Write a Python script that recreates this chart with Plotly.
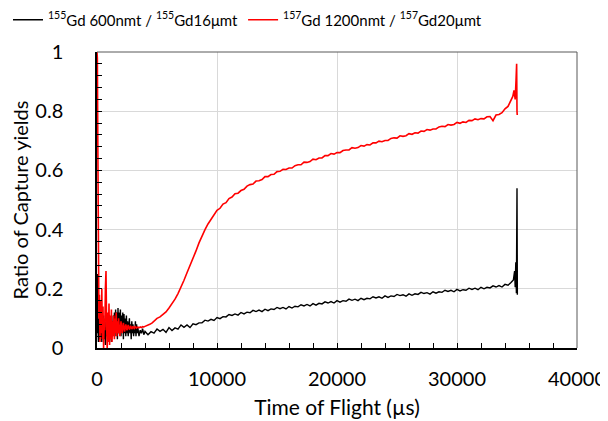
import plotly.graph_objects as go

# ---------------- data ----------------
series_names = [
    "<sup>155</sup>Gd 600nmt / <sup>155</sup>Gd16\u03bcmt",
    "<sup>157</sup>Gd 1200nmt / <sup>157</sup>Gd20\u03bcmt",
]

# 155Gd ratio: noisy start
gd155_tof_early = [0, 40, 80, 120, 160, 200, 250, 300, 350, 400, 450, 500, 550, 600, 650, 700,
                   750, 800, 850, 900, 950, 1000, 1050, 1100, 1150, 1200, 1250, 1300, 1350, 1400,
                   1450, 1500, 1550, 1600, 1650, 1700, 1750, 1800, 1850, 1900, 1950, 2000, 2050,
                   2100, 2150, 2200, 2250, 2300, 2350, 2400, 2450, 2500, 2550, 2600, 2700, 2750,
                   2800, 2850, 2900, 2950, 3000, 3050, 3100, 3150, 3200, 3250, 3300, 3350, 3400,
                   3500, 3600, 3700, 3800, 3900]
gd155_ratio_early = [0.05, 0.25, 0.08, 0.02, 0.10, 0.03, 0.12, 0.04, 0.09, 0.02, 0.08, 0.05, 0.11,
                     0.03, 0.07, 0.01, 0.09, 0.04, 0.06, 0.02, 0.08, 0.05, 0.10, 0.03, 0.07, 0.02,
                     0.09, 0.04, 0.11, 0.05, 0.12, 0.04, 0.13, 0.06, 0.12, 0.03, 0.135, 0.05, 0.12,
                     0.07, 0.13, 0.04, 0.11, 0.06, 0.12, 0.03, 0.115, 0.05, 0.10, 0.04, 0.11, 0.05,
                     0.09, 0.04, 0.10, 0.05, 0.08, 0.03, 0.09, 0.05, 0.08, 0.04, 0.07, 0.05, 0.09,
                     0.04, 0.08, 0.05, 0.07, 0.04, 0.06, 0.05, 0.065, 0.045]
# 155Gd ratio: 4000 .. 34500 us, every 250 us
gd155_tof_late = list(range(4000, 34501, 250))
gd155_ratio_late = [
    0.056, 0.045, 0.055, 0.050, 0.064, 0.056, 0.063, 0.053,
    0.069, 0.059, 0.068, 0.064, 0.078, 0.070, 0.078, 0.069,
    0.082, 0.079, 0.085, 0.085, 0.094, 0.091, 0.097, 0.093,
    0.103, 0.099, 0.106, 0.105, 0.113, 0.110, 0.115, 0.111,
    0.120, 0.115, 0.121, 0.119, 0.127, 0.123, 0.128, 0.123,
    0.131, 0.126, 0.132, 0.130, 0.137, 0.133, 0.137, 0.132,
    0.140, 0.135, 0.141, 0.139, 0.146, 0.142, 0.147, 0.142,
    0.150, 0.145, 0.151, 0.149, 0.156, 0.152, 0.157, 0.152,
    0.160, 0.155, 0.160, 0.158, 0.165, 0.161, 0.165, 0.160,
    0.168, 0.163, 0.168, 0.166, 0.173, 0.169, 0.173, 0.168,
    0.176, 0.171, 0.176, 0.174, 0.181, 0.177, 0.180, 0.175,
    0.183, 0.178, 0.183, 0.181, 0.188, 0.184, 0.187, 0.182,
    0.190, 0.185, 0.190, 0.188, 0.195, 0.191, 0.195, 0.190,
    0.198, 0.193, 0.197, 0.195, 0.202, 0.198, 0.202, 0.197,
    0.205, 0.200, 0.205, 0.203, 0.210, 0.206, 0.211, 0.206,
    0.215, 0.212, 0.221]
# 155Gd ratio: spike at the end of the frame
gd155_tof_tail = [34700, 34800, 34850, 34900, 34950, 35000, 35030]
gd155_ratio_tail = [0.23, 0.26, 0.205, 0.29, 0.185, 0.54, 0.18]

# 157Gd ratio: noisy start
gd157_tof_early = [0, 30, 60, 90, 120, 160, 200, 250, 300, 350, 400, 450, 500, 550, 600, 650, 700,
                   750, 800, 850, 900, 950, 1000, 1050, 1100, 1150, 1200, 1250, 1300, 1350, 1400,
                   1450, 1500, 1550, 1600, 1650, 1700, 1750, 1800, 1900, 2000, 2100, 2200, 2300,
                   2400, 2500, 2600, 2700, 2800, 2900, 3000, 3100, 3200, 3300, 3400, 3500, 3600,
                   3700, 3800, 3900, 4000, 4200, 4400, 4600, 4800]
gd157_ratio_early = [1.0, 0.98, 0.75, 0.5, 0.30, 0.10, 0.18, 0.02, 0.16, 0.05, 0.20, 0.03, 0.14,
                     0.0, 0.10, 0.06, 0.20, 0.26, 0.08, 0.0, 0.12, 0.02, 0.15, 0.01, 0.11, 0.03,
                     0.13, 0.02, 0.09, 0.04, 0.11, 0.03, 0.10, 0.05, 0.12, 0.04, 0.09, 0.05, 0.10,
                     0.04, 0.09, 0.05, 0.085, 0.055, 0.08, 0.06, 0.078, 0.062, 0.075, 0.064, 0.073,
                     0.066, 0.072, 0.067, 0.071, 0.068, 0.071, 0.069, 0.072, 0.071, 0.073, 0.076,
                     0.080, 0.085, 0.092]
# 157Gd ratio: 5000 .. 34500 us, every 250 us
gd157_tof_late = list(range(5000, 34501, 250))
gd157_ratio_late = [
    0.100, 0.105, 0.112, 0.122, 0.135, 0.149, 0.165, 0.184, 0.205, 0.229,
    0.254, 0.277, 0.300, 0.328, 0.355, 0.379, 0.400, 0.419, 0.435, 0.449,
    0.465, 0.472, 0.486, 0.491, 0.505, 0.510, 0.521, 0.523,
    0.532, 0.536, 0.547, 0.552, 0.554, 0.564, 0.565, 0.569,
    0.579, 0.579, 0.586, 0.587, 0.596, 0.597, 0.604, 0.603,
    0.608, 0.608, 0.616, 0.619, 0.619, 0.628, 0.627, 0.630,
    0.638, 0.636, 0.642, 0.642, 0.650, 0.650, 0.657, 0.655,
    0.660, 0.660, 0.667, 0.669, 0.669, 0.677, 0.675, 0.677,
    0.684, 0.682, 0.687, 0.686, 0.693, 0.693, 0.699, 0.697,
    0.701, 0.701, 0.708, 0.710, 0.709, 0.717, 0.715, 0.717,
    0.724, 0.722, 0.727, 0.726, 0.733, 0.732, 0.738, 0.736,
    0.740, 0.740, 0.747, 0.749, 0.748, 0.755, 0.753, 0.755,
    0.762, 0.759, 0.764, 0.762, 0.769, 0.768, 0.774, 0.771,
    0.775, 0.774, 0.781, 0.782, 0.768, 0.787, 0.789, 0.795,
    0.808, 0.816, 0.839]
gd157_tof_tail = [34650, 34750, 34850, 34920, 34970, 35000, 35020]
gd157_ratio_tail = [0.85, 0.87, 0.84, 0.905, 0.96, 0.80, 0.787]

x_ticks = [0, 10000, 20000, 30000, 40000]
x_tick_labels = ["0", "10000", "20000", "30000", "40000"]
y_ticks = [0, 0.2, 0.4, 0.6, 0.8, 1.0]
y_tick_labels = ["0", "0.2", "0.4", "0.6", "0.8", "1"]

# ---------------- figure ----------------
FONT = "Lato, 'Liberation Sans', sans-serif"

fig = go.Figure()
fig.add_trace(go.Scatter(
    x=gd155_tof_early + gd155_tof_late + gd155_tof_tail,
    y=gd155_ratio_early + gd155_ratio_late + gd155_ratio_tail,
    mode="lines", name=series_names[0],
    line=dict(color="#000000", width=1.4),
))
fig.add_trace(go.Scatter(
    x=gd157_tof_early + gd157_tof_late + gd157_tof_tail,
    y=gd157_ratio_early + gd157_ratio_late + gd157_ratio_tail,
    mode="lines", name=series_names[1],
    line=dict(color="#ff0000", width=1.6),
))

# the page body keeps its default 8px margin, so the figure is 8px smaller
fig.update_layout(
    width=600, height=413,
    margin=dict(l=89, r=31, t=44, b=73, autoexpand=False),
    paper_bgcolor="white", plot_bgcolor="white",
    font=dict(family=FONT, color="#000000", size=20),
    showlegend=True,
    legend=dict(
        orientation="h", xref="container", yref="container",
        x=0.0, xanchor="left", y=0.971, yanchor="middle",
        font=dict(size=15, family=FONT), itemwidth=30,
        tracegroupgap=0, bgcolor="rgba(0,0,0,0)",
    ),
    xaxis=dict(
        range=[0, 40000], tickvals=x_ticks, ticktext=x_tick_labels, automargin=False,
        showgrid=True, gridcolor="#d9d9d9", gridwidth=1, zeroline=False,
        showline=True, linecolor="#000000", linewidth=1.5,
        ticks="inside", ticklen=5, tickcolor="#000000",
        minor=dict(dtick=2000, ticks="inside", ticklen=5, tickcolor="#000000", showgrid=False),
        ticklabelstandoff=12, tickfont=dict(size=20),
        title=dict(text="Time of Flight (\u00b5s)", font=dict(size=21), standoff=12),
    ),
    yaxis=dict(
        range=[0, 1], tickvals=y_ticks, ticktext=y_tick_labels, automargin=False,
        showgrid=True, gridcolor="#d9d9d9", gridwidth=1, zeroline=False,
        showline=True, linecolor="#000000", linewidth=1.5,
        ticks="inside", ticklen=5, tickcolor="#000000",
        minor=dict(dtick=0.04, ticks="inside", ticklen=5, tickcolor="#000000", showgrid=False),
        ticklabelstandoff=28, tickfont=dict(size=20),
        title=dict(text="Ratio of Capture yields", font=dict(size=20), standoff=2),
    ),
)

# thin dark-grey frame on the top and right of the plot area
fig.add_shape(type="line", xref="paper", yref="paper", x0=0, x1=1, y0=1, y1=1,
              line=dict(color="#595959", width=1), layer="above")
fig.add_shape(type="line", xref="paper", yref="paper", x0=1, x1=1, y0=0, y1=1,
              line=dict(color="#595959", width=1), layer="above")

fig.write_html("out.html")
